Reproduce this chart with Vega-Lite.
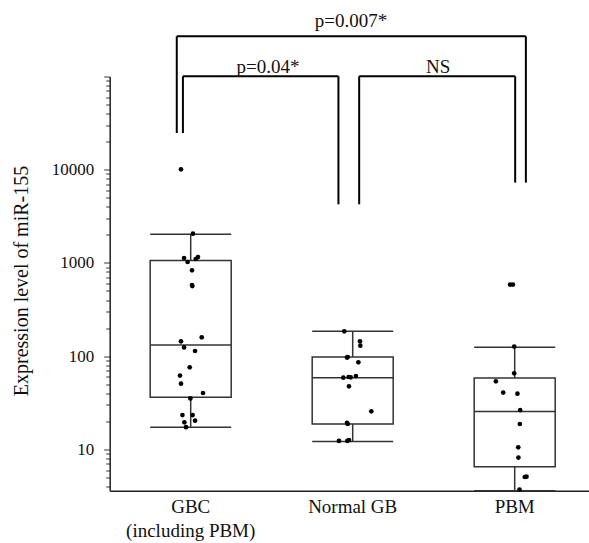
{
  "$schema": "https://vega.github.io/schema/vega-lite/v6.json",
  "autosize": "none",
  "width": 486,
  "height": 414.2,
  "padding": {"left": 109.7, "top": 76.5, "right": 0, "bottom": 52.3},
  "background": "white",
  "config": {"view": {"stroke": null}, "font": "Liberation Serif"},
  "datasets": {
    "points": [
      {"group": "GBC (including PBM)", "value": 10093, "jx": -0.060},
      {"group": "GBC (including PBM)", "value": 2062, "jx": 0.014},
      {"group": "GBC (including PBM)", "value": 1129, "jx": -0.041},
      {"group": "GBC (including PBM)", "value": 1156, "jx": 0.045},
      {"group": "GBC (including PBM)", "value": 1101, "jx": 0.031},
      {"group": "GBC (including PBM)", "value": 1023, "jx": -0.019},
      {"group": "GBC (including PBM)", "value": 833, "jx": 0.008},
      {"group": "GBC (including PBM)", "value": 579, "jx": 0.008},
      {"group": "GBC (including PBM)", "value": 565, "jx": 0.010},
      {"group": "GBC (including PBM)", "value": 159, "jx": 0.068},
      {"group": "GBC (including PBM)", "value": 144, "jx": -0.060},
      {"group": "GBC (including PBM)", "value": 124, "jx": -0.041},
      {"group": "GBC (including PBM)", "value": 113.5, "jx": 0.027},
      {"group": "GBC (including PBM)", "value": 75.8, "jx": -0.006},
      {"group": "GBC (including PBM)", "value": 61.8, "jx": -0.066},
      {"group": "GBC (including PBM)", "value": 50.7, "jx": -0.060},
      {"group": "GBC (including PBM)", "value": 40.2, "jx": 0.076},
      {"group": "GBC (including PBM)", "value": 35.2, "jx": -0.002},
      {"group": "GBC (including PBM)", "value": 23.3, "jx": -0.051},
      {"group": "GBC (including PBM)", "value": 23.3, "jx": 0.012},
      {"group": "GBC (including PBM)", "value": 20.3, "jx": 0.027},
      {"group": "GBC (including PBM)", "value": 19.5, "jx": -0.039},
      {"group": "GBC (including PBM)", "value": 17.3, "jx": -0.029},
      {"group": "Normal GB", "value": 184.5, "jx": -0.052},
      {"group": "Normal GB", "value": 144, "jx": 0.045},
      {"group": "Normal GB", "value": 129.6, "jx": 0.047},
      {"group": "Normal GB", "value": 97.8, "jx": -0.031},
      {"group": "Normal GB", "value": 96.4, "jx": -0.035},
      {"group": "Normal GB", "value": 85.8, "jx": 0.035},
      {"group": "Normal GB", "value": 58.8, "jx": -0.058},
      {"group": "Normal GB", "value": 59.7, "jx": -0.025},
      {"group": "Normal GB", "value": 59.3, "jx": -0.012},
      {"group": "Normal GB", "value": 61.1, "jx": 0.020},
      {"group": "Normal GB", "value": 47.4, "jx": -0.023},
      {"group": "Normal GB", "value": 25.6, "jx": 0.115},
      {"group": "Normal GB", "value": 19.3, "jx": -0.035},
      {"group": "Normal GB", "value": 18.7, "jx": -0.031},
      {"group": "Normal GB", "value": 12.3, "jx": -0.085},
      {"group": "Normal GB", "value": 12.3, "jx": -0.033},
      {"group": "Normal GB", "value": 12.6, "jx": -0.023},
      {"group": "PBM", "value": 585, "jx": -0.028},
      {"group": "PBM", "value": 585, "jx": -0.011},
      {"group": "PBM", "value": 126.5, "jx": -0.003},
      {"group": "PBM", "value": 65.4, "jx": -0.003},
      {"group": "PBM", "value": 53.7, "jx": -0.116},
      {"group": "PBM", "value": 40.6, "jx": -0.071},
      {"group": "PBM", "value": 39.6, "jx": 0.017},
      {"group": "PBM", "value": 26.4, "jx": 0.034},
      {"group": "PBM", "value": 18.7, "jx": 0.032},
      {"group": "PBM", "value": 10.5, "jx": 0.022},
      {"group": "PBM", "value": 8.15, "jx": 0.023},
      {"group": "PBM", "value": 5.05, "jx": 0.062},
      {"group": "PBM", "value": 5.09, "jx": 0.073},
      {"group": "PBM", "value": 3.7, "jx": 0.030}
    ],
    "boxes": [
      {"group": "GBC (including PBM)", "lo": 17.3, "q1": 36.1, "median": 131.5, "q3": 1059, "hi": 2028},
      {"group": "Normal GB", "lo": 12.1, "q1": 18.7, "median": 58.8, "q3": 97.8, "hi": 184.5},
      {"group": "PBM", "lo": 3.6, "q1": 6.52, "median": 25.4, "q3": 58.2, "hi": 124.3}
    ],
    "brackets": [
      {"label": "p=0.007*", "from": "GBC (including PBM)", "to": "PBM", "top": 270000, "leftEnd": 24760, "rightEnd": 7270, "textAt": "Normal GB", "textY": 339600},
      {"label": "p=0.04*", "from": "GBC (including PBM)", "to": "Normal GB", "top": 100500, "leftEnd": 24760, "rightEnd": 4253, "textAt": "GBC (including PBM)", "textY": 109000},
      {"label": "NS", "from": "Normal GB", "to": "PBM", "top": 100500, "leftEnd": 4253, "rightEnd": 7270, "textAt": "PBM", "textY": 109000}
    ]
  },
  "encoding": {
    "x": {
      "field": "group",
      "type": "nominal",
      "scale": {"domain": ["GBC (including PBM)", "Normal GB", "PBM"], "paddingInner": 0, "paddingOuter": 0},
      "axis": {
        "title": null,
        "ticks": false,
        "domainColor": "#222222",
        "domainWidth": 1.5,
        "labelAngle": 0,
        "labelFont": "Liberation Serif",
        "labelFontSize": 19,
        "labelColor": "#111111",
        "labelPadding": 7,
        "labelLineHeight": 24,
        "labelBaseline": "top",
        "labelExpr": "datum.value == 'GBC (including PBM)' ? ['GBC', '(including PBM)'] : datum.label"
      }
    }
  },
  "layer": [
    {
      "data": {"name": "boxes"},
      "mark": {"type": "rule", "color": "#333333", "strokeWidth": 1.5},
      "encoding": {
        "x": {"field": "group", "type": "nominal", "bandPosition": 0.5},
        "y": {
          "field": "lo",
          "type": "quantitative",
          "scale": {"type": "log", "domain": [3.6, 100000], "nice": false},
          "axis": {
            "title": "Expression level of miR-155",
            "titleFont": "Liberation Serif",
            "titleFontSize": 20,
            "titleFontWeight": "normal",
            "titleColor": "#111111",
            "titleAngle": -90,
            "titleX": -88,
            "titleY": 204,
            "titleAlign": "center",
            "titleBaseline": "middle",
            "values": [4,5,6,7,8,9,10,20,30,40,50,60,70,80,90,100,200,300,400,500,600,700,800,900,1000,2000,3000,4000,5000,6000,7000,8000,9000,10000,20000,30000,40000,50000,60000,70000,80000,90000,100000],
            "labelExpr": "indexof([10,100,1000,10000], datum.value) >= 0 ? format(datum.value, 'd') : ''",
            "labelOverlap": false,
            "labelFlush": false,
            "labelFont": "Liberation Serif",
            "labelFontSize": 17,
            "labelColor": "#111111",
            "labelPadding": 10,
            "grid": false,
            "domainColor": "#222222",
            "domainWidth": 1.5,
            "tickColor": "#333333",
            "tickSize": {"condition": {"test": "indexof([10,100,1000,10000,100000], datum.value) >= 0", "value": 6}, "value": 4}
          }
        },
        "y2": {"field": "q1"}
      }
    },
    {
      "data": {"name": "boxes"},
      "mark": {"type": "rule", "color": "#333333", "strokeWidth": 1.5},
      "encoding": {
        "x": {"field": "group", "type": "nominal", "bandPosition": 0.5},
        "y": {"field": "q3", "type": "quantitative"},
        "y2": {"field": "hi"}
      }
    },
    {
      "data": {"name": "boxes"},
      "mark": {"type": "rect", "fill": "white", "fillOpacity": 0, "stroke": "#333333", "strokeWidth": 1.5},
      "encoding": {
        "x": {"field": "group", "type": "nominal", "bandPosition": 0.25},
        "x2": {"field": "group", "bandPosition": 0.75},
        "y": {"field": "q1", "type": "quantitative"},
        "y2": {"field": "q3"}
      }
    },
    {
      "data": {"name": "boxes"},
      "mark": {"type": "rule", "color": "#333333", "strokeWidth": 1.5},
      "encoding": {
        "x": {"field": "group", "type": "nominal", "bandPosition": 0.25},
        "x2": {"field": "group", "bandPosition": 0.75},
        "y": {"field": "median", "type": "quantitative"}
      }
    },
    {
      "data": {"name": "boxes"},
      "mark": {"type": "rule", "color": "#333333", "strokeWidth": 1.5},
      "encoding": {
        "x": {"field": "group", "type": "nominal", "bandPosition": 0.25},
        "x2": {"field": "group", "bandPosition": 0.75},
        "y": {"field": "hi", "type": "quantitative"}
      }
    },
    {
      "data": {"name": "boxes"},
      "mark": {"type": "rule", "color": "#333333", "strokeWidth": 1.5},
      "encoding": {
        "x": {"field": "group", "type": "nominal", "bandPosition": 0.25},
        "x2": {"field": "group", "bandPosition": 0.75},
        "y": {"field": "lo", "type": "quantitative"}
      }
    },
    {
      "data": {"name": "points"},
      "mark": {"type": "circle", "color": "black", "size": 22, "opacity": 1},
      "encoding": {
        "x": {"field": "group", "type": "nominal"},
        "xOffset": {"field": "jx", "type": "quantitative", "scale": {"domain": [-0.5, 0.5], "range": [0, 162]}},
        "y": {"field": "value", "type": "quantitative"}
      }
    },
    {
      "data": {"name": "brackets"},
      "transform": [{"filter": "datum.label == 'p=0.007*'"}],
      "mark": {"type": "rule", "color": "black", "strokeWidth": 2},
      "encoding": {
        "x": {"field": "from", "type": "nominal", "bandPosition": 0.414},
        "x2": {"field": "to", "bandPosition": 0.569},
        "y": {"field": "top", "type": "quantitative"}
      }
    },
    {
      "data": {"name": "brackets"},
      "transform": [{"filter": "datum.label == 'p=0.007*'"}],
      "mark": {"type": "rule", "color": "black", "strokeWidth": 2},
      "encoding": {
        "x": {"field": "from", "type": "nominal", "bandPosition": 0.414},
        "y": {"field": "top", "type": "quantitative"},
        "y2": {"field": "leftEnd"}
      }
    },
    {
      "data": {"name": "brackets"},
      "transform": [{"filter": "datum.label == 'p=0.007*'"}],
      "mark": {"type": "rule", "color": "black", "strokeWidth": 2},
      "encoding": {
        "x": {"field": "to", "type": "nominal", "bandPosition": 0.569},
        "y": {"field": "top", "type": "quantitative"},
        "y2": {"field": "rightEnd"}
      }
    },
    {
      "data": {"name": "brackets"},
      "transform": [{"filter": "datum.label == 'p=0.04*'"}],
      "mark": {"type": "rule", "color": "black", "strokeWidth": 2},
      "encoding": {
        "x": {"field": "from", "type": "nominal", "bandPosition": 0.452},
        "x2": {"field": "to", "bandPosition": 0.412},
        "y": {"field": "top", "type": "quantitative"}
      }
    },
    {
      "data": {"name": "brackets"},
      "transform": [{"filter": "datum.label == 'p=0.04*'"}],
      "mark": {"type": "rule", "color": "black", "strokeWidth": 2},
      "encoding": {
        "x": {"field": "from", "type": "nominal", "bandPosition": 0.452},
        "y": {"field": "top", "type": "quantitative"},
        "y2": {"field": "leftEnd"}
      }
    },
    {
      "data": {"name": "brackets"},
      "transform": [{"filter": "datum.label == 'p=0.04*'"}],
      "mark": {"type": "rule", "color": "black", "strokeWidth": 2},
      "encoding": {
        "x": {"field": "to", "type": "nominal", "bandPosition": 0.412},
        "y": {"field": "top", "type": "quantitative"},
        "y2": {"field": "rightEnd"}
      }
    },
    {
      "data": {"name": "brackets"},
      "transform": [{"filter": "datum.label == 'NS'"}],
      "mark": {"type": "rule", "color": "black", "strokeWidth": 2},
      "encoding": {
        "x": {"field": "from", "type": "nominal", "bandPosition": 0.54},
        "x2": {"field": "to", "bandPosition": 0.503},
        "y": {"field": "top", "type": "quantitative"}
      }
    },
    {
      "data": {"name": "brackets"},
      "transform": [{"filter": "datum.label == 'NS'"}],
      "mark": {"type": "rule", "color": "black", "strokeWidth": 2},
      "encoding": {
        "x": {"field": "from", "type": "nominal", "bandPosition": 0.54},
        "y": {"field": "top", "type": "quantitative"},
        "y2": {"field": "leftEnd"}
      }
    },
    {
      "data": {"name": "brackets"},
      "transform": [{"filter": "datum.label == 'NS'"}],
      "mark": {"type": "rule", "color": "black", "strokeWidth": 2},
      "encoding": {
        "x": {"field": "to", "type": "nominal", "bandPosition": 0.503},
        "y": {"field": "top", "type": "quantitative"},
        "y2": {"field": "rightEnd"}
      }
    },
    {
      "data": {"name": "brackets"},
      "transform": [{"filter": "datum.label == 'p=0.007*'"}],
      "mark": {"type": "text", "font": "Liberation Serif", "fontSize": 19, "color": "#111111", "align": "center", "baseline": "alphabetic"},
      "encoding": {
        "x": {"field": "textAt", "type": "nominal", "bandPosition": 0.49},
        "y": {"field": "textY", "type": "quantitative"},
        "text": {"field": "label"}
      }
    },
    {
      "data": {"name": "brackets"},
      "transform": [{"filter": "datum.label == 'p=0.04*'"}],
      "mark": {"type": "text", "font": "Liberation Serif", "fontSize": 19, "color": "#111111", "align": "center", "baseline": "alphabetic"},
      "encoding": {
        "x": {"field": "textAt", "type": "nominal", "bandPosition": 0.977},
        "y": {"field": "textY", "type": "quantitative"},
        "text": {"field": "label"}
      }
    },
    {
      "data": {"name": "brackets"},
      "transform": [{"filter": "datum.label == 'NS'"}],
      "mark": {"type": "text", "font": "Liberation Serif", "fontSize": 19, "color": "#111111", "align": "center", "baseline": "alphabetic"},
      "encoding": {
        "x": {"field": "textAt", "type": "nominal", "bandPosition": 0.028},
        "y": {"field": "textY", "type": "quantitative"},
        "text": {"field": "label"}
      }
    }
  ]
}
